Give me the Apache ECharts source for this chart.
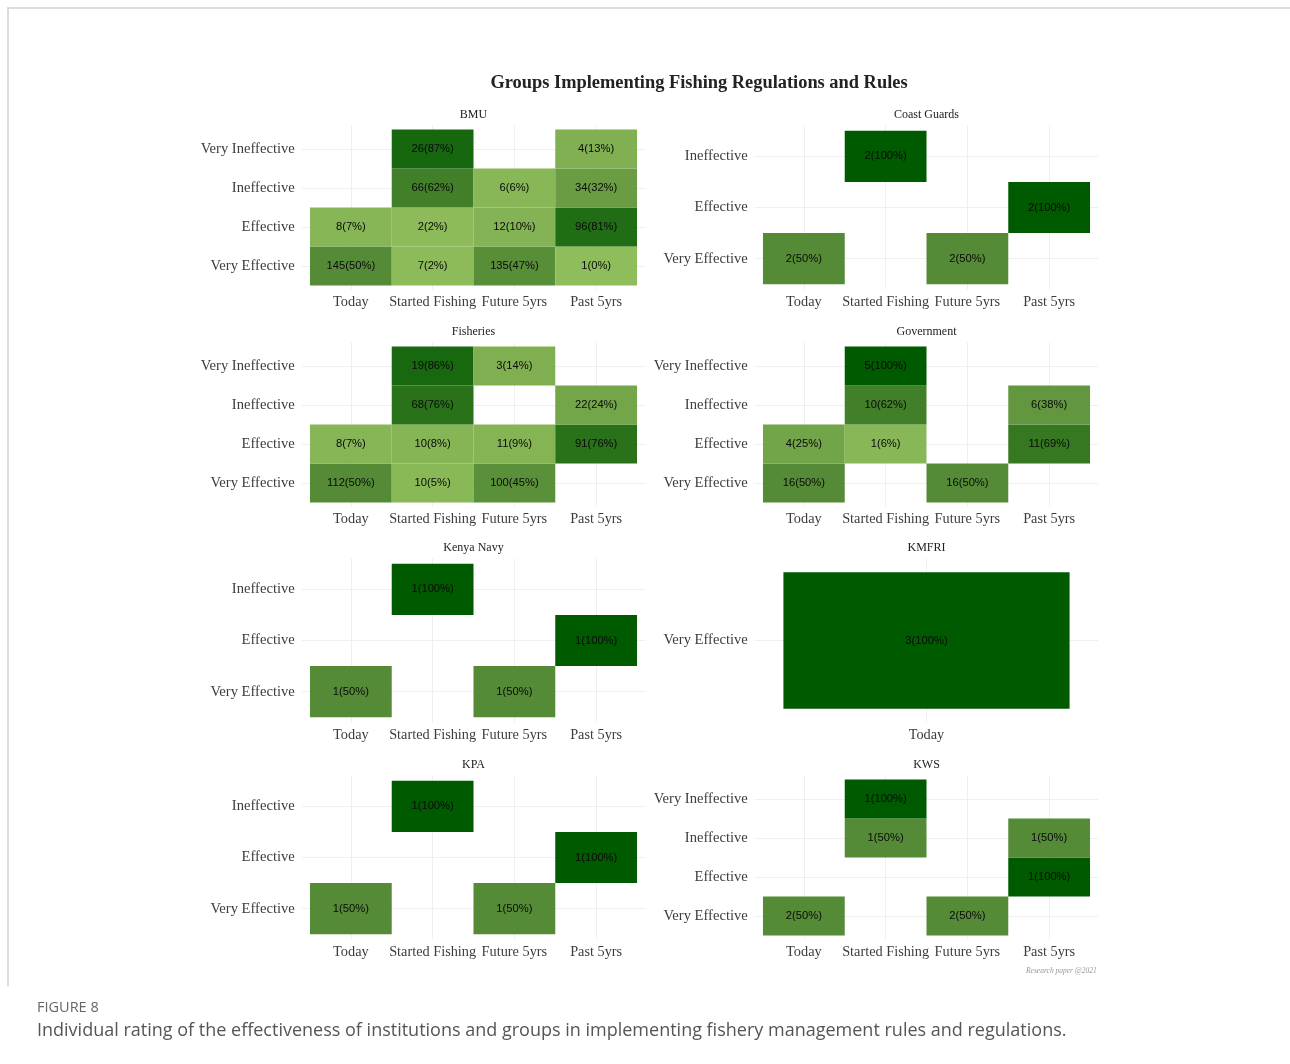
<!DOCTYPE html>
<html>
<head>
<meta charset="utf-8">
<script src="https://cdn.jsdelivr.net/npm/echarts@6/dist/echarts.min.js"></script>
<style>
html,body{margin:0;padding:0;background:#fff;}
#chart{width:1290px;height:1064px;}
</style>
</head>
<body>
<div id="chart"></div>
<script>
// ---- data ----
const panelNames = ['BMU', 'Coast Guards', 'Fisheries', 'Government', 'Kenya Navy', 'KMFRI', 'KPA', 'KWS'];
const xCats = ['Today', 'Started Fishing', 'Future 5yrs', 'Past 5yrs'];
const xCatsKMFRI = ['Today'];
const yCats4 = ['Very Effective', 'Effective', 'Ineffective', 'Very Ineffective'];
const yCats3 = ['Very Effective', 'Effective', 'Ineffective'];
const yCatsKMFRI = ['Very Effective'];

// rows follow the y categories (bottom first), columns follow the x categories
const bmuCounts   = [[145, 7, 135, 1], [8, 2, 12, 96], [null, 66, 6, 34], [null, 26, null, 4]];
const bmuPct      = [[50, 2, 47, 0], [7, 2, 10, 81], [null, 62, 6, 32], [null, 87, null, 13]];
const coastCounts = [[2, null, 2, null], [null, null, null, 2], [null, 2, null, null]];
const coastPct    = [[50, null, 50, null], [null, null, null, 100], [null, 100, null, null]];
const fishCounts  = [[112, 10, 100, null], [8, 10, 11, 91], [null, 68, null, 22], [null, 19, 3, null]];
const fishPct     = [[50, 5, 45, null], [7, 8, 9, 76], [null, 76, null, 24], [null, 86, 14, null]];
const govCounts   = [[16, null, 16, null], [4, 1, null, 11], [null, 10, null, 6], [null, 5, null, null]];
const govPct      = [[50, null, 50, null], [25, 6, null, 69], [null, 62, null, 38], [null, 100, null, null]];
const navyCounts  = [[1, null, 1, null], [null, null, null, 1], [null, 1, null, null]];
const navyPct     = [[50, null, 50, null], [null, null, null, 100], [null, 100, null, null]];
const kmfriCounts = [[3]];
const kmfriPct    = [[100]];
const kpaCounts   = [[1, null, 1, null], [null, null, null, 1], [null, 1, null, null]];
const kpaPct      = [[50, null, 50, null], [null, null, null, 100], [null, 100, null, null]];
const kwsCounts   = [[2, null, 2, null], [null, null, null, 1], [null, 1, null, 1], [null, 1, null, null]];
const kwsPct      = [[50, null, 50, null], [null, null, null, 100], [null, 50, null, 50], [null, 100, null, null]];

const panelX = [xCats, xCats, xCats, xCats, xCats, xCatsKMFRI, xCats, xCats];
const panelY = [yCats4, yCats3, yCats4, yCats4, yCats3, yCatsKMFRI, yCats3, yCats4];
const panelCounts = [bmuCounts, coastCounts, fishCounts, govCounts, navyCounts, kmfriCounts, kpaCounts, kwsCounts];
const panelPct = [bmuPct, coastPct, fishPct, govPct, navyPct, kmfriPct, kpaPct, kwsPct];

// ---- layout ----
const colLeft = [301.8, 754.8];
const panelW = 343.4;
const rowCenter = [207.5, 424.5, 640.5, 857.5];
const panelH = 163.8;
const serif = '"Liberation Serif", "DejaVu Serif", serif';
const sans = '"Liberation Sans", Arial, sans-serif';

const grids = [], xAxes = [], yAxes = [], series = [], titles = [];
titles.push({
  text: 'Groups Implementing Fishing Regulations and Rules',
  left: 699, top: 74, textAlign: 'center', padding: 0,
  textStyle: {fontFamily: serif, fontSize: 18.4, fontWeight: 'bold', color: '#222'}
});

panelNames.forEach((name, i) => {
  const col = i % 2, row = Math.floor(i / 2);
  const left = colLeft[col], top = rowCenter[row] - panelH / 2;
  grids.push({left: left, top: top, width: panelW, height: panelH, containLabel: false});
  const xc = panelX[i], yc = panelY[i];
  const xIdx = xc.map((_, k) => k), yIdx = yc.map((_, k) => k);
  xAxes.push({
    type: 'value', gridIndex: i, min: -0.6, max: xc.length - 0.4,
    axisLine: {show: false},
    axisTick: {show: false, customValues: xIdx},
    axisLabel: {customValues: xIdx, formatter: v => xc[Math.round(v)] || '', margin: 6,
      fontFamily: serif, fontSize: 14.3, color: '#3d3d3d'},
    splitLine: {show: true, lineStyle: {color: '#efefef', width: 1}}
  });
  yAxes.push({
    type: 'value', gridIndex: i, min: -0.6, max: yc.length - 0.4,
    axisLine: {show: false},
    axisTick: {show: false, customValues: yIdx},
    axisLabel: {customValues: yIdx, formatter: v => yc[Math.round(v)] || '', margin: 7,
      fontFamily: serif, fontSize: 14.6, color: '#3d3d3d'},
    splitLine: {show: true, lineStyle: {color: '#efefef', width: 1}}
  });
  titles.push({
    text: name, left: left + panelW / 2, top: top - 17, textAlign: 'center', padding: 0,
    textStyle: {fontFamily: serif, fontSize: 12, fontWeight: 'normal', color: '#222'}
  });
  const data = [];
  panelCounts[i].forEach((r, yi) => r.forEach((c, xi) => {
    if (c !== null) data.push([xi, yi, c, panelPct[i][yi][xi]]);
  }));
  series.push({
    type: 'custom', xAxisIndex: i, yAxisIndex: i,
    encode: {x: 0, y: 1},
    data: data,
    renderItem: function (params, api) {
      const x = api.value(0), y = api.value(1);
      const p0 = api.coord([x - 0.5, y + 0.5]);
      const p1 = api.coord([x + 0.5, y - 0.5]);
      return {
        type: 'rect',
        shape: {x: p0[0], y: p0[1], width: p1[0] - p0[0], height: p1[1] - p0[1]},
        style: {fill: api.visual('color')},
        textContent: {style: {text: api.value(2) + '(' + api.value(3) + '%)',
          fontFamily: sans, fontSize: 11.2, fill: '#0a0a0a'}},
        textConfig: {position: 'inside'}
      };
    }
  });
});

const chart = echarts.init(document.getElementById('chart'), null, {renderer: 'canvas'});
chart.setOption({
  animation: false,
  backgroundColor: '#ffffff',
  title: titles,
  grid: grids,
  xAxis: xAxes,
  yAxis: yAxes,
  visualMap: {
    show: false, type: 'continuous', min: 0, max: 100, dimension: 3,
    seriesIndex: series.map((_, k) => k),
    inRange: {color: ['#8fbd5b', '#558b36', '#005a00']}
  },
  series: series,
  graphic: [
    {type: 'line', shape: {x1: 7, y1: 8, x2: 1290, y2: 8}, style: {stroke: '#d2d2d2', lineWidth: 1.5}},
    {type: 'line', shape: {x1: 8, y1: 8, x2: 8, y2: 986}, style: {stroke: '#d2d2d2', lineWidth: 1.5}},
    {type: 'text', left: 1026, top: 967, style: {text: 'Research paper @2021', font: 'italic 7.5px ' + serif, fill: '#999'}},
    {type: 'text', left: 37, top: 1000, style: {text: 'FIGURE 8', font: '14.5px "Open Sans", sans-serif', fill: '#666'}},
    {type: 'text', left: 37, top: 1022, style: {text: 'Individual rating of the effectiveness of institutions and groups in implementing fishery management rules and regulations.', font: '18px "Open Sans", sans-serif', fill: '#555'}}
  ]
});
</script>
</body>
</html>
